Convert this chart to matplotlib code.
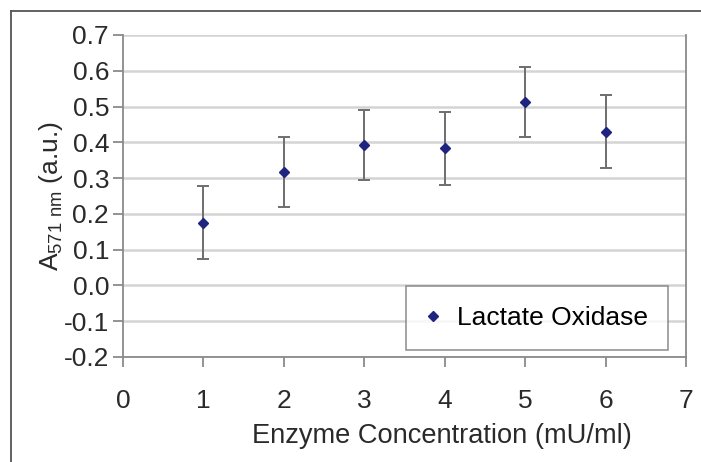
import numpy as np
import matplotlib
matplotlib.use("Agg")
import matplotlib.pyplot as plt
from matplotlib.lines import Line2D

# data
conc = [1, 2, 3, 4, 5, 6]
absorb = [0.175, 0.317, 0.392, 0.383, 0.513, 0.430]
err = [0.102, 0.099, 0.098, 0.101, 0.097, 0.101]
series_name = 'Lactate Oxidase'
x_label = 'Enzyme Concentration (mU/ml)'
y_label = r'A$_{571\ nm}$ (a.u.)'
yticks = np.round(np.arange(-0.2, 0.71, 0.1), 1)
xticks = [0, 1, 2, 3, 4, 5, 6, 7]

plt.rcParams['font.family'] = ['Liberation Sans', 'DejaVu Sans']
plt.rcParams['mathtext.default'] = 'regular'

W, H = 701, 462
FS = 19
txt_c = '#2a2a2a'
fig = plt.figure(figsize=(W/100, H/100), dpi=100)
fig.patch.set_facecolor('white')

# outer frame (top and left edges visible)
fig.add_artist(Line2D([11/W, 1], [1-11/H, 1-11/H], color='#555555', lw=1.3))
fig.add_artist(Line2D([11/W, 11/W], [0, 1-11/H], color='#555555', lw=1.3))

ax = fig.add_axes([123/W, 1-357/H, (686-123)/W, (357-35)/H])
grid_c = '#d4d4d4'
axis_c = '#8a8a8a'

for v in yticks:
    ax.axhline(v, color=grid_c, lw=1.8, zorder=0)

ax.errorbar(conc, absorb, yerr=err, fmt='none', ecolor='#6e6e6e',
            elinewidth=1.4, capsize=4.5, capthick=1.4, zorder=2)
ax.plot(conc, absorb, 'D', color='#1f2480', ms=5.5, zorder=3, label=series_name)

ax.set_xlim(0, 7)
ax.set_ylim(-0.2, 0.7)
ax.set_xticks(xticks)
ax.set_yticks(yticks)
ax.set_yticklabels(['%.1f' % v for v in yticks])

for s in ['left', 'bottom', 'right']:
    ax.spines[s].set_color(axis_c)
    ax.spines[s].set_linewidth(1.3)
ax.spines['top'].set_visible(False)
ax.tick_params(axis='both', color=axis_c, width=1.3, length=7, labelsize=FS,
               labelcolor=txt_c, direction='out')
ax.tick_params(axis='x', pad=16)
ax.tick_params(axis='y', pad=3)

ax.set_xlabel(x_label, fontsize=19.6, color=txt_c, va='center')
ax.xaxis.set_label_coords((442-123)/563, -(436-357)/322)
ax.set_ylabel(y_label, fontsize=FS, color=txt_c, va='center')
ax.yaxis.set_label_coords(-(123-51)/563, 0.5)

leg = ax.legend(loc='lower right', bbox_to_anchor=(0.968, 0.022), borderaxespad=0,
                fontsize=FS, frameon=True, fancybox=False, edgecolor='#7a7a7a',
                handlelength=0.6, handletextpad=0.6, borderpad=0.75, markerscale=0.9)
leg.get_frame().set_linewidth(1.2)

fig.savefig('out.png', dpi=100)
